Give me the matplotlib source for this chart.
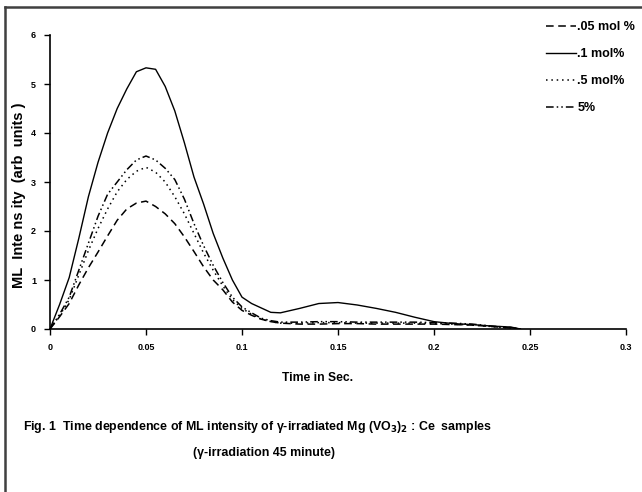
# -*- coding: utf-8 -*-

import matplotlib
matplotlib.use('Agg')
import matplotlib.pyplot as plt
from matplotlib.lines import Line2D

plt.rcParams['font.family'] = ['Liberation Sans', 'DejaVu Sans']
plt.rcParams['font.weight'] = 'bold'

# time (sec)
time_s = [0, .005, .01, .015, .02, .025, .03, .035, .04, .045, .05, .055, .06, .065,
          .07, .075, .08, .085, .09, .095, .10, .105, .11, .115, .12, .13, .14, .15,
          .16, .17, .18, .19, .20, .21, .22, .23, .24, .245]

# ML intensity (arb units)
ml_005 = [0, 0.25, 0.52, 0.9, 1.25, 1.57, 1.9, 2.22, 2.45, 2.57, 2.61, 2.5, 2.35, 2.15,
          1.88, 1.58, 1.27, 1.0, 0.8, 0.55, 0.38, 0.28, 0.2, 0.15, 0.12, 0.1, 0.1, 0.11,
          0.11, 0.1, 0.1, 0.1, 0.1, 0.09, 0.08, 0.05, 0.02, 0]
ml_01 = [0, 0.5, 1.05, 1.85, 2.7, 3.4, 4.0, 4.5, 4.9, 5.25, 5.33, 5.3, 4.95, 4.45,
         3.8, 3.1, 2.55, 1.95, 1.45, 1.0, 0.65, 0.52, 0.43, 0.34, 0.33, 0.42, 0.52, 0.54,
         0.49, 0.42, 0.34, 0.24, 0.15, 0.11, 0.09, 0.06, 0.04, 0]
ml_05 = [0, 0.27, 0.6, 1.1, 1.6, 2.05, 2.45, 2.8, 3.05, 3.22, 3.3, 3.2, 3.0, 2.7,
         2.35, 1.95, 1.55, 1.2, 0.88, 0.6, 0.42, 0.3, 0.2, 0.15, 0.12, 0.12, 0.13, 0.13,
         0.12, 0.12, 0.12, 0.12, 0.11, 0.1, 0.08, 0.05, 0.02, 0]
ml_5 = [0, 0.3, 0.65, 1.2, 1.75, 2.3, 2.75, 3.0, 3.25, 3.45, 3.53, 3.45, 3.28, 3.05,
        2.65, 2.15, 1.7, 1.3, 0.95, 0.65, 0.45, 0.33, 0.22, 0.17, 0.14, 0.14, 0.15, 0.15,
        0.14, 0.14, 0.14, 0.14, 0.13, 0.12, 0.1, 0.06, 0.03, 0]

labels = ['.05 mol %', '.1 mol%', '.5 mol%', '5%']
xticks = [0, 0.05, 0.1, 0.15, 0.2, 0.25, 0.3]
xticklabels = ['0', '0.05', '0.1', '0.15', '0.2', '0.25', '0.3']
yticks = [0, 1, 2, 3, 4, 5, 6]

fig = plt.figure(figsize=(6.42, 4.92), dpi=100)
ax = fig.add_axes([50/642, 1-329/492, 576/642, 294/492])

ax.plot(time_s, ml_005, color='black', lw=1.1, ls=(0, (5, 3)), label=labels[0])
ax.plot(time_s, ml_01, color='black', lw=1.0, ls='-', label=labels[1])
ax.plot(time_s, ml_05, color='black', lw=1.1, ls=(0, (1, 2.5)), label=labels[2])
ax.plot(time_s, ml_5, color='black', lw=1.1, ls=(0, (5, 2, 1, 2, 1, 2)), label=labels[3])

ax.set_xlim(0, 0.3)
ax.set_ylim(0, 6)
ax.set_xticks(xticks)
ax.set_xticklabels(xticklabels)
ax.set_yticks(yticks)
ax.tick_params(labelsize=6.5, length=4, width=1, direction='out', pad=6)
for s in ['top', 'right']:
    ax.spines[s].set_visible(False)
for s in ['left', 'bottom']:
    ax.spines[s].set_linewidth(1.2)

ax.set_xlabel('Time in Sec.', fontsize=8.7, fontweight='bold')
ax.xaxis.set_label_coords((318-50)/576, -(372-329)/294)
ax.set_ylabel('ML  Inte ns ity  (arb  units )', fontsize=10.5, fontweight='bold')
ax.yaxis.set_label_coords(-(50-26)/576, (329-195)/294)

ax.legend(loc='upper left', bbox_to_anchor=(546/642, 1-21/492), bbox_transform=fig.transFigure,
          frameon=False, fontsize=9, handlelength=2.4, handletextpad=0.1,
          labelspacing=1.2, borderpad=0, borderaxespad=0)

fig.text(258/642, 1-427/492,
         'Fig. 1  Time dependence of ML intensity of γ-irradiated Mg (VO$_3$)$_2$ : Ce  samples',
         ha='center', va='center', fontsize=8.9, fontweight='bold')
fig.text(264/642, 1-453/492, '(γ-irradiation 45 minute)',
         ha='center', va='center', fontsize=8.9, fontweight='bold')

# page frame (left and top edges)
fig.add_artist(Line2D([5/642, 5/642], [0, 1-7/492], transform=fig.transFigure,
                      color='#404040', lw=1.8))
fig.add_artist(Line2D([5/642, 1], [1-7/492, 1-7/492], transform=fig.transFigure,
                      color='#404040', lw=1.8))

plt.savefig('out.png', dpi=100)
